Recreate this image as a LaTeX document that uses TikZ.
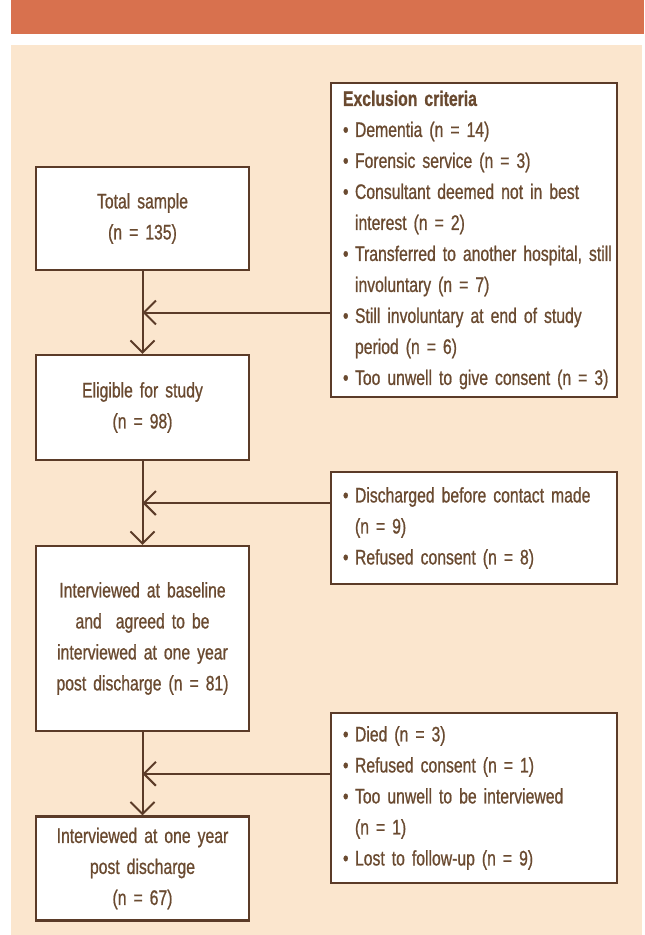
\documentclass[tikz,border=0pt]{standalone}
\usepackage{fontspec}
\setmainfont{Liberation Sans}[FakeStretch=0.75, FakeBold=0.8]
\usepackage{xcolor}
\usepackage{tikz}
\usetikzlibrary{arrows.meta, calc}
\definecolor{banner}{HTML}{D8714E}
\definecolor{panel}{HTML}{FBE6CE}
\definecolor{edge}{HTML}{5B3B28}
\definecolor{ink}{HTML}{6A4A30}
\newcommand{\bul}{\makebox[9.5pt][l]{\hspace{3.5pt}\textbullet}}
\newcommand{\ind}{\hspace*{9.5pt}}
\newcommand{\boxfont}{\fontsize{10.5}{15.5}\selectfont}
\tikzstyle{stage} = [rectangle, minimum width=106.5pt, text width=98pt, align=center, draw=edge, line width=1.1pt, fill=white, text=ink, font=\boxfont]
\tikzstyle{excluded} = [rectangle, minimum width=143pt, text width=138pt, inner xsep=2.5pt, align=left, draw=edge, line width=1.1pt, fill=white, text=ink, font=\boxfont]
\tikzstyle{arrow} = [draw=edge, line width=1pt, -{Straight Barb[length=6pt,width=12pt]}]

\begin{document}
\begin{tikzpicture}[node distance=115pt]

\useasboundingbox (0,0) rectangle (322pt,-467.5pt);
\fill [banner] (5.5pt,0) rectangle (322pt,-17pt);
\fill [panel] (5.5pt,-22.5pt) rectangle (321pt,-467.5pt);

\node (total) [stage, minimum height=51.5pt] at (71.25pt,-109.25pt) {Total sample\\(n = 135)};
\node (elig) [stage, below of=total, yshift=20.5pt, minimum height=52.5pt] {Eligible for study\\(n = 98)};
\node (interv) [stage, below of=elig, yshift=-0.5pt, minimum height=92.5pt] {Interviewed at baseline\\and\ \ agreed to be\\interviewed at one year\\post discharge (n = 81)};
\node (oneyr) [stage, below of=interv, minimum height=52pt] {Interviewed at one year\\post discharge\\(n = 67)};

\node (excl) [excluded, right of=total, xshift=50.75pt, yshift=-10.75pt, minimum height=157pt] {\hspace*{3.5pt}\textbf{Exclusion criteria}\\\bul Dementia (n = 14)\\\bul Forensic service (n = 3)\\\bul Consultant deemed not in best\\\ind interest (n = 2)\\\bul Transferred to another hospital, still\\\ind involuntary (n = 7)\\\bul Still involuntary at end of study\\\ind period (n = 6)\\\bul Too unwell to give consent (n = 3)};
\node (disc) [excluded, below of=excl, yshift=-29pt, minimum height=56pt] {\bul Discharged before contact made\\\ind (n = 9)\\\bul Refused consent (n = 8)};
\node (died) [excluded, below of=disc, yshift=-20pt, minimum height=85pt] {\bul Died (n = 3)\\\bul Refused consent (n = 1)\\\bul Too unwell to be interviewed\\\ind (n = 1)\\\bul Lost to follow-up (n = 9)};

\coordinate (m1) at ($(total.south)!0.5!(elig.north)$);
\coordinate (m2) at ($(elig.south)!0.5!(interv.north)$);
\coordinate (m3) at ($(interv.south)!0.5!(oneyr.north)$);

\draw [arrow] (total) -- (elig);
\draw [arrow] (elig) -- (interv);
\draw [arrow] (interv) -- (oneyr);
\draw [arrow] (excl.west |- m1) -- (m1);
\draw [arrow] (disc.west |- m2) -- (m2);
\draw [arrow] (died.west |- m3) -- (m3);

\end{tikzpicture}
\end{document}
